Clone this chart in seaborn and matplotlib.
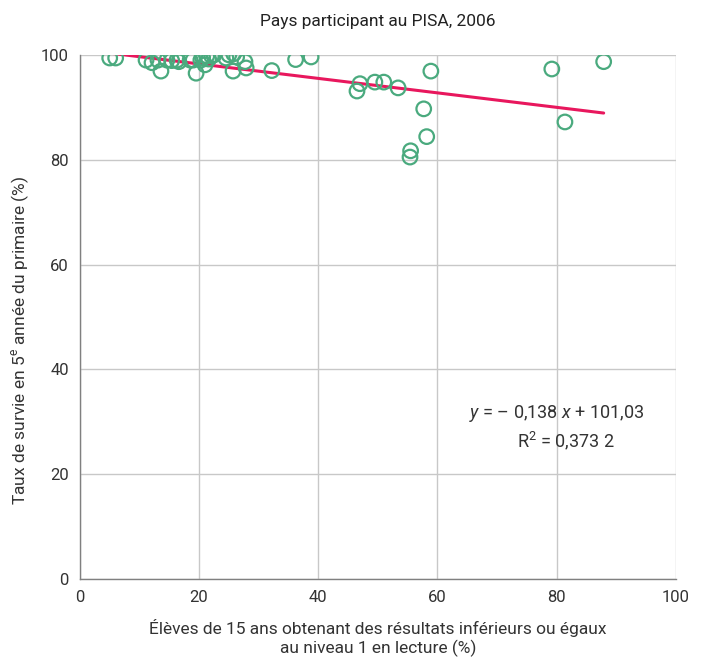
import numpy as np
import pandas as pd
import matplotlib
matplotlib.use("Agg")
import matplotlib.pyplot as plt
import seaborn as sns

# Share of 15-year-olds at or below level 1 in reading (%)
low_reading = [5.0, 6.0, 11.1, 12.1, 13.1, 13.6, 14.6, 15.4, 16.3, 16.6,
               18.5, 19.0, 19.5, 20.3, 20.6, 21.0, 21.3, 21.6, 22.1, 22.5,
               24.5, 25.0, 25.7, 25.8, 26.3, 27.7, 27.9, 32.2, 36.2, 38.8,
               46.5, 47.0, 49.5, 51.0, 53.4, 58.9, 57.7, 58.2, 55.5, 55.4,
               79.2, 81.4, 87.9]
# Survival rate to grade 5 of primary (%)
survival = [99.4, 99.4, 99.0, 98.5, 99.0, 96.9, 99.0, 98.9, 99.0, 98.7,
            99.0, 99.0, 96.5, 99.0, 99.4, 98.1, 99.8, 99.2, 99.8, 100.0,
            99.4, 100.0, 96.9, 100.2, 99.6, 98.7, 97.5, 97.0, 99.1, 99.6,
            93.1, 94.5, 94.8, 94.8, 93.7, 96.9, 89.7, 84.4, 81.7, 80.5,
            97.3, 87.2, 98.7]

slope = -0.138
intercept = 101.03
r2_label = "0,373 2"

x_ticks = [0, 20, 40, 60, 80, 100]
y_ticks = [0, 20, 40, 60, 80, 100]

df = pd.DataFrame({"x": low_reading, "y": survival})

sns.set_theme(style="white")
plt.rcParams["font.family"] = ["Roboto", "DejaVu Sans"]
plt.rcParams["mathtext.fontset"] = "custom"
plt.rcParams["mathtext.rm"] = "Roboto"
plt.rcParams["mathtext.it"] = "Roboto:italic"

fig = plt.figure(figsize=(7.01, 6.61), dpi=100)
ax = fig.add_axes([0.114, 0.124, 0.850, 0.793])

green = "#4aaa7e"
pink = "#e8175d"

sns.scatterplot(data=df, x="x", y="y", ax=ax, marker="o", s=110,
                facecolors="none", edgecolor=green, linewidth=1.6, zorder=3)

xs = np.array([min(low_reading), max(low_reading)])
ax.plot(xs, slope * xs + intercept, color=pink, linewidth=2.2, zorder=2)

ax.set_xlim(0, 100)
ax.set_ylim(0, 100)
ax.set_xticks(x_ticks)
ax.set_yticks(y_ticks)
ax.grid(True, color="#c8c8c8", linewidth=1.0)
ax.set_axisbelow(True)
for side in ["top", "right"]:
    ax.spines[side].set_visible(False)
for side in ["left", "bottom"]:
    ax.spines[side].set_color("#808080")
    ax.spines[side].set_linewidth(1.0)
ax.tick_params(axis="both", length=0, labelsize=12, colors="#333333", pad=8)

ax.set_title("Pays participant au PISA, 2006", fontsize=12.5, color="#222222", pad=21)
ax.set_xlabel("Élèves de 15 ans obtenant des résultats inférieurs ou égaux\nau niveau 1 en lecture (%)",
              fontsize=12.5, color="#333333", labelpad=10)
ax.set_ylabel("Taux de survie en 5$^\\mathregular{e}$ année du primaire (%)",
              fontsize=12.5, color="#333333")
ax.yaxis.set_label_coords(-0.082, 0.455)

ax.text(80, 31.5, "$\\it{y}$ = \u2013 0,138 $\\it{x}$ + 101,03", ha="center", va="center",
        fontsize=13, color="#333333")
ax.text(81.5, 26.3, "R$^\\mathregular{2}$ = " + r2_label, ha="center", va="center",
        fontsize=13, color="#333333")

fig.savefig("out.png", dpi=100, facecolor="white")
